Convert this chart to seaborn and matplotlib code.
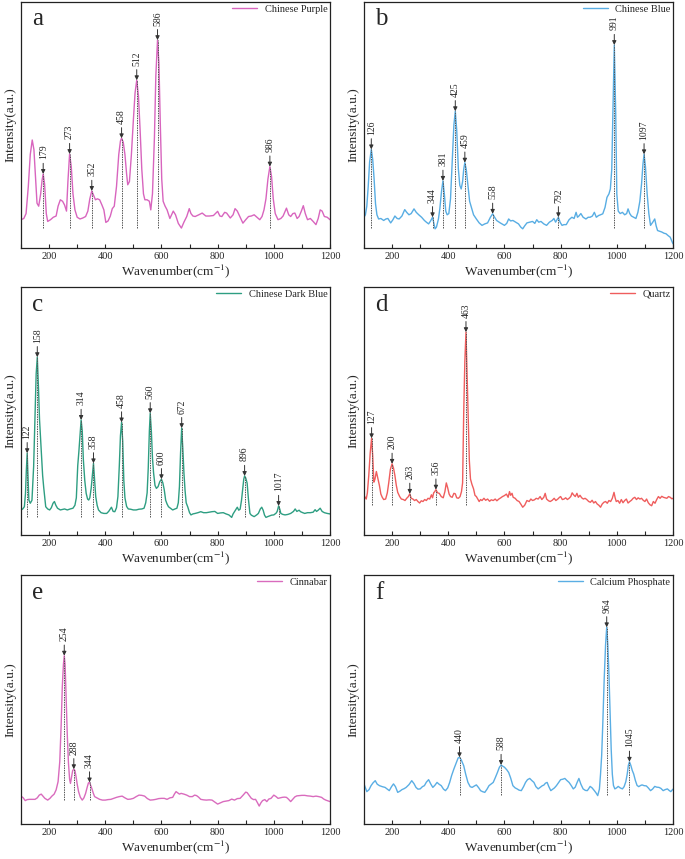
import numpy as np
import pandas as pd
import matplotlib
matplotlib.use("Agg")
import matplotlib.pyplot as plt
from matplotlib.ticker import MultipleLocator
import seaborn as sns

# ---------------- data (intensity in arbitrary units, 0-100 scale) ----------------
a_x = [100,110,118,126,133,140,146,152,157,163,170,175,179,184,190,195,205,215,225,232,240,248,255,262,267,273,279,285,292,300,310,320,330,338,345,352,358,365,372,380,388,395,402,410,418,425,432,440,448,454,458,464,470,476,480,486,493,500,506,512,518,524,530,536,541,549,557,562,568,575,580,586,591,596,601,606,613,620,630,642,650,660,671,680,690,699,705,712,720,733,745,758,770,785,800,808,815,825,832,845,855,862,870,880,890,900,910,920,930,940,950,958,965,972,979,986,992,998,1005,1015,1025,1033,1045,1053,1060,1068,1075,1083,1090,1098,1105,1112,1120,1130,1140,1150,1158,1165,1172,1180,1190,1200]
a_y = [11.5,12.0,14.0,25.0,38.0,43.9,40.0,28.0,18.2,17.0,22.0,27.5,30.1,26.0,14.0,10.8,11.5,12.5,13.0,17.0,19.6,19.0,17.5,15.0,27.0,38.2,33.0,22.0,15.5,12.5,11.8,12.2,12.8,15.0,20.0,23.2,21.5,19.6,20.0,19.6,17.5,15.5,10.4,11.0,13.0,16.0,17.0,25.0,38.0,43.5,44.6,43.0,38.0,30.0,25.7,27.0,38.0,52.0,63.0,68.2,62.0,48.0,32.0,22.0,19.6,19.6,19.0,15.5,22.0,45.0,70.0,84.5,75.0,50.0,28.0,19.0,17.0,15.5,12.0,15.0,13.5,10.0,8.1,10.5,12.8,16.0,14.0,13.0,12.8,13.5,14.2,13.0,13.0,13.2,14.9,13.0,12.8,14.5,14.2,12.2,13.5,16.0,15.0,12.5,10.1,11.5,12.8,13.0,13.5,12.5,11.5,12.8,15.5,20.0,28.0,33.1,29.0,20.0,14.0,11.5,12.0,13.0,16.2,13.5,12.8,14.0,14.2,12.0,12.8,15.0,17.2,14.0,11.5,12.0,10.8,9.5,12.0,15.5,15.0,12.8,12.5,11.5]
a_peaks = [179, 273, 352, 458, 512, 586, 986]

b_x = [100,105,110,115,120,126,131,136,141,146,152,160,170,178,185,195,203,210,218,225,235,245,252,260,268,278,286,295,305,315,322,330,337,344,349,353,358,365,370,376,381,386,391,396,402,408,414,420,425,430,436,441,446,451,455,459,464,470,476,482,490,500,510,520,530,540,550,558,565,572,585,600,608,615,622,630,640,650,658,665,672,680,690,700,708,715,722,730,740,750,760,770,776,782,787,792,798,805,812,820,830,840,848,855,860,865,872,880,890,898,905,913,920,927,935,942,950,958,965,972,977,982,986,991,996,1000,1005,1012,1020,1028,1035,1040,1046,1052,1060,1068,1075,1082,1088,1093,1097,1102,1108,1114,1120,1128,1135,1140,1145,1152,1160,1168,1175,1183,1190,1196,1200]
b_y = [12.5,13.5,17.0,25.0,35.0,40.1,36.0,28.0,18.0,13.5,11.8,12.0,11.2,11.8,12.0,10.2,11.5,13.0,12.0,11.8,13.0,15.6,14.5,13.5,14.0,15.9,14.5,13.5,12.5,11.2,10.5,9.8,11.0,12.5,10.0,7.8,8.5,11.8,16.0,23.0,27.3,22.0,15.0,13.5,14.0,20.0,35.0,50.0,55.6,48.0,32.0,25.5,24.0,27.0,32.0,34.7,32.0,25.3,19.0,16.6,13.5,11.8,10.2,9.2,9.8,10.2,12.5,13.9,12.5,11.2,10.2,9.2,10.0,11.8,11.0,11.2,10.5,9.8,8.5,7.8,9.0,10.2,10.5,10.8,10.0,11.5,10.5,10.8,9.8,9.2,10.5,11.2,12.0,10.5,11.5,12.5,10.5,9.2,9.5,9.5,11.5,12.5,12.0,14.5,12.5,13.0,14.0,12.5,11.8,12.5,12.5,13.0,14.5,12.5,13.2,13.5,13.9,16.5,20.6,22.0,24.0,32.0,55.0,82.5,55.0,22.0,15.0,14.0,14.5,13.5,14.0,15.9,14.0,13.0,12.5,12.0,14.5,19.0,26.0,34.0,38.1,33.0,22.0,14.0,9.2,10.5,11.8,9.0,7.1,6.8,6.5,6.0,5.8,5.0,4.4,2.8,1.7]
b_peaks = [126, 344, 381, 425, 459, 558, 792, 991, 1097]

c_x = [100,106,112,116,119,122,125,128,133,139,145,150,154,158,162,166,170,173,177,181,188,195,202,208,214,219,224,230,240,255,265,275,285,292,297,302,306,310,314,318,322,327,332,337,341,345,350,354,358,362,366,371,376,385,395,405,412,418,422,428,434,440,445,450,454,458,462,466,470,476,482,490,500,510,520,530,538,544,549,553,557,560,564,568,572,577,582,588,594,600,605,610,615,620,625,632,640,648,655,660,664,668,672,676,680,684,688,694,700,705,712,720,730,740,750,760,770,780,790,800,810,820,830,840,846,850,855,860,866,870,875,880,885,890,893,896,900,905,910,915,920,930,940,945,952,957,962,967,972,978,985,992,1000,1008,1012,1017,1021,1025,1032,1040,1050,1060,1070,1076,1082,1090,1095,1103,1110,1120,1130,1140,1147,1152,1158,1165,1172,1180,1190,1200]
c_y = [10.1,10.5,11.4,16.8,26.0,33.0,24.0,14.1,12.8,14.0,27.6,48.0,65.0,71.7,60.0,46.4,38.0,31.0,24.0,19.0,11.4,10.5,10.1,11.0,12.8,13.5,12.0,10.8,10.1,10.5,10.1,10.5,10.8,12.0,15.0,28.0,33.6,40.0,46.4,42.0,30.3,22.0,16.8,14.5,14.1,15.0,19.0,24.0,28.9,22.0,15.5,12.0,10.1,9.0,8.7,8.7,9.5,10.5,11.2,9.5,9.4,11.0,15.5,28.0,40.0,45.4,38.0,22.0,15.0,11.5,10.5,10.4,10.1,10.1,10.4,10.5,10.8,13.0,17.0,27.0,42.0,49.1,42.0,31.0,25.0,20.0,18.8,19.5,21.5,22.5,21.0,18.2,14.0,12.5,11.4,10.8,10.1,10.5,10.8,13.0,19.5,33.0,43.1,35.0,25.0,18.0,13.0,11.2,9.0,8.1,8.5,8.7,9.0,9.4,9.0,9.0,9.2,9.4,9.5,8.7,8.9,9.0,8.5,8.1,7.5,7.1,8.5,9.4,10.5,11.2,10.0,10.4,14.0,19.5,22.5,23.8,23.0,20.9,14.0,8.7,8.0,7.4,8.2,8.7,10.5,11.2,10.0,8.0,7.1,7.4,7.7,8.0,8.1,8.8,9.5,11.7,10.5,8.7,8.3,8.1,8.3,8.7,9.5,10.5,9.5,10.0,9.4,9.0,8.7,9.0,9.0,9.2,10.2,9.5,10.0,10.8,9.5,9.0,8.7,8.5]
c_peaks = [122, 158, 314, 358, 458, 560, 600, 672, 896, 1017]

d_x = [100,104,108,112,117,122,127,131,135,139,144,149,155,160,165,170,177,183,188,194,200,205,210,215,220,227,233,240,246,252,258,263,268,274,280,286,292,298,304,310,316,322,328,334,340,344,348,352,356,362,368,375,382,388,393,398,403,408,414,420,425,430,436,442,447,451,455,459,463,467,471,475,479,484,490,495,500,505,510,515,520,527,533,540,547,553,560,567,573,580,587,593,600,607,613,618,622,627,631,638,645,652,658,665,672,680,688,694,700,707,713,720,727,733,740,745,750,757,763,770,777,783,790,796,800,806,812,818,824,830,836,841,846,852,858,863,869,875,881,887,893,900,906,912,918,924,930,936,942,948,954,960,966,972,978,984,990,994,998,1004,1010,1016,1022,1028,1034,1040,1046,1052,1058,1064,1070,1076,1082,1088,1094,1100,1106,1112,1118,1124,1130,1136,1142,1148,1154,1160,1166,1172,1178,1184,1190,1196,1200]
d_y = [15.9,15.2,14.5,17.0,24.0,33.0,39.0,32.0,21.3,22.5,25.6,23.0,19.9,16.5,15.2,14.3,14.5,17.0,21.0,26.5,28.7,27.0,24.0,20.0,17.2,15.5,14.5,14.3,13.9,14.8,15.5,16.6,14.8,14.5,13.9,14.3,13.5,12.9,13.8,13.5,14.3,13.9,14.8,14.5,16.2,15.0,17.0,17.5,18.3,17.0,16.8,15.5,15.0,17.5,21.0,19.0,16.5,15.5,15.2,16.8,16.6,15.0,14.8,15.5,17.5,21.0,49.5,70.0,81.8,65.0,46.8,30.0,22.6,20.5,18.6,16.0,15.5,14.5,13.5,14.3,13.9,14.8,14.0,14.5,13.6,14.2,13.9,14.5,13.8,14.5,15.0,15.5,15.9,16.5,15.2,17.5,16.0,16.8,15.2,14.8,13.9,13.5,12.5,11.2,12.0,13.9,13.5,14.5,13.9,14.2,14.8,14.5,15.5,14.3,15.2,16.8,14.5,13.8,13.5,14.0,14.8,13.9,14.5,15.2,15.5,14.3,14.5,15.0,14.3,14.8,15.5,17.0,16.2,15.5,16.8,15.2,16.0,15.0,14.5,14.8,14.3,13.5,13.2,14.0,12.9,13.5,12.5,12.0,11.2,12.5,13.2,13.5,12.8,13.9,13.5,14.8,17.2,15.0,13.5,13.9,12.8,14.3,13.0,13.9,14.5,12.9,13.5,14.0,14.8,15.2,14.3,15.0,14.5,14.8,14.0,13.5,14.5,13.0,12.2,11.8,13.5,12.8,14.3,15.5,14.8,15.6,15.2,15.0,14.8,15.5,15.2,14.6,14.8]
d_peaks = [127, 200, 263, 356, 463]

e_x = [100,108,115,122,130,140,150,158,165,172,178,185,195,203,210,218,225,232,238,243,247,251,254,257,261,265,269,273,276,280,284,288,292,296,300,305,311,318,324,330,335,340,344,348,352,357,362,370,380,390,400,410,420,430,440,450,460,470,480,490,500,510,520,530,540,550,560,570,580,590,600,610,620,630,640,646,652,658,664,670,680,690,700,710,718,725,732,740,750,760,770,780,790,800,810,820,830,840,850,860,870,880,890,900,905,912,920,928,935,942,948,954,960,968,975,982,990,1000,1008,1015,1022,1030,1038,1045,1052,1060,1068,1075,1082,1090,1100,1110,1120,1130,1140,1150,1160,1170,1178,1185,1192,1200]
e_y = [11.2,10.5,9.4,9.8,9.9,9.9,9.9,10.5,11.6,12.0,11.2,10.3,9.6,10.3,11.2,12.0,13.7,17.0,25.0,40.0,55.0,64.0,67.6,64.0,50.0,35.0,24.4,18.0,16.3,19.0,21.5,22.0,21.5,19.0,16.0,13.0,10.8,9.6,10.5,12.3,14.5,16.5,16.7,15.5,14.3,12.5,11.0,10.5,9.9,9.6,9.6,9.8,9.9,10.3,10.7,11.0,11.2,10.5,9.9,10.0,10.3,11.0,11.6,11.5,11.2,10.2,9.6,9.7,9.9,10.2,10.3,10.3,9.9,10.5,10.7,12.0,13.0,12.5,12.0,12.3,12.0,11.6,11.0,11.0,11.6,11.4,10.8,9.9,9.7,9.6,9.7,9.6,8.8,8.0,8.5,9.0,9.2,9.4,10.0,9.6,10.2,10.3,11.5,12.8,12.6,11.5,10.3,9.8,9.9,8.5,7.2,8.5,9.4,9.8,9.0,10.0,10.3,11.6,11.0,10.3,10.5,10.7,10.8,10.7,10.0,9.0,10.0,10.9,11.3,11.4,11.5,11.5,11.3,11.2,11.0,11.2,11.0,10.7,10.0,9.6,9.3,9.0]
e_peaks = [254, 288, 344]

f_x = [100,105,110,118,125,132,140,147,155,165,175,183,190,198,205,212,220,228,235,243,250,260,270,278,285,292,300,308,315,322,330,338,345,352,360,367,375,383,390,398,405,412,420,428,435,440,446,455,462,470,478,485,492,500,508,515,522,530,538,545,552,560,567,575,582,588,594,600,608,615,622,630,638,645,652,660,668,675,682,690,697,705,712,720,728,735,740,746,752,758,765,772,778,785,792,800,808,815,822,830,838,845,852,858,865,872,880,888,895,900,905,912,920,926,932,938,942,946,950,955,960,964,968,972,976,980,984,988,993,999,1005,1012,1020,1026,1032,1037,1041,1045,1050,1055,1060,1066,1072,1078,1085,1090,1097,1105,1112,1120,1127,1135,1142,1150,1157,1165,1172,1180,1186,1192,1200]
f_y = [16.1,14.5,13.0,13.8,15.4,16.5,17.4,16.0,15.4,15.0,14.7,14.0,13.4,15.0,16.1,15.0,12.7,13.2,13.8,14.2,14.7,15.8,17.4,16.2,14.7,14.0,14.1,15.0,15.4,16.8,17.8,16.0,14.7,15.5,16.7,16.0,15.4,14.0,13.4,14.5,16.7,19.5,22.1,24.5,26.5,26.8,25.8,23.4,20.0,16.7,15.0,14.7,15.2,15.7,14.6,13.4,13.0,12.7,14.0,15.4,16.0,16.7,18.5,20.7,22.8,23.7,23.2,22.8,21.8,20.7,18.5,15.4,14.5,14.1,13.6,13.4,15.0,16.7,17.8,18.3,17.5,16.7,15.0,14.1,14.8,15.4,15.6,16.4,16.7,15.0,13.4,14.0,14.5,15.4,16.5,17.8,18.0,18.3,17.5,16.7,15.4,14.1,14.8,16.5,18.3,16.0,14.1,13.5,13.4,14.2,15.1,14.5,13.4,12.5,11.4,14.0,20.0,27.4,40.0,58.0,72.0,79.0,72.0,60.0,45.0,30.0,20.0,15.5,14.1,14.5,15.1,14.5,14.1,15.0,17.0,20.0,23.5,25.0,23.5,21.5,20.1,17.5,15.5,15.0,15.5,15.7,15.4,15.3,14.5,13.4,14.0,15.1,14.8,14.7,14.3,13.4,13.8,14.1,13.5,13.0,14.0]
f_peaks = [440, 588, 964, 1045]

names = ["Chinese Purple", "Chinese Blue", "Chinese Dark Blue", "Quartz", "Cinnabar", "Calcium Phosphate"]
letters = ["a", "b", "c", "d", "e", "f"]

# ---------------- style ----------------
sns.set_style("ticks")
plt.rcParams["font.family"] = ["Liberation Serif", "DejaVu Serif"]
plt.rcParams["mathtext.fontset"] = "stix"

colors = ["#d865be", "#58ade3", "#2e9e82", "#ef5d5d", "#d96bbd", "#5aaee4"]
dash_base = [8.1, 8.0, 7.1, 12.1, 9.6, 11.6]

series = [(a_x, a_y, a_peaks), (b_x, b_y, b_peaks), (c_x, c_y, c_peaks),
          (d_x, d_y, d_peaks), (e_x, e_y, e_peaks), (f_x, f_y, f_peaks)]

fig = plt.figure(figsize=(6.85, 8.59), dpi=100)
W, H = 685, 859
col_left = [21, 364]
col_w = 309
row_top = [2, 287, 575]
row_h = [246, 248, 249]

for i, (xs, ys, peaks) in enumerate(series):
    r, c = divmod(i, 2)
    left = col_left[c] / W
    bottom = 1 - (row_top[r] + row_h[r]) / H
    ax = fig.add_axes([left, bottom, col_w / W, row_h[r] / H])
    df = pd.DataFrame({"Wavenumber": xs, "Intensity": ys})
    sns.lineplot(data=df, x="Wavenumber", y="Intensity", ax=ax, color=colors[i],
                 linewidth=1.0, label=names[i], estimator=None, sort=False)
    ax.set_xlim(100, 1200)
    ax.set_ylim(0, 100)
    ax.set_yticks([])
    ax.xaxis.set_major_locator(MultipleLocator(200))
    ax.xaxis.set_minor_locator(MultipleLocator(100))
    ax.tick_params(axis="x", which="both", direction="in", length=3, width=0.8,
                   labelsize=7.5, pad=3, top=False)
    for sp in ax.spines.values():
        sp.set_visible(True)
        sp.set_linewidth(0.9)
        sp.set_color("#222222")
    ax.set_xlabel("Wavenumber(cm$^{-1}$)", fontsize=9.5, labelpad=1)
    ax.set_ylabel("Intensity(a.u.)", fontsize=9.5, labelpad=3)

    # annotations
    for p in peaks:
        yp = float(np.interp(p, xs, ys))
        ax.vlines(p, dash_base[i], yp, colors="#555555", linestyles=(0, (1.5, 1.0)),
                  linewidth=0.7, zorder=3)
        ax.annotate(str(p), xy=(p, yp), xytext=(0, 10.5), textcoords="offset points",
                    rotation=90, ha="center", va="bottom", fontsize=7,
                    arrowprops=dict(arrowstyle="-|>", color="#333333", lw=0.7,
                                    shrinkA=0.5, shrinkB=0, mutation_scale=6))

    ax.text(0.035, 0.905, letters[i], transform=ax.transAxes, fontsize=18,
            va="baseline", ha="left")
    leg = ax.legend(loc="upper right", bbox_to_anchor=(1.0, 1.0), frameon=False,
                    fontsize=7.5, handlelength=2.4, handletextpad=0.7,
                    borderaxespad=0.0, borderpad=0.25)

fig.savefig("out.png", dpi=100)
